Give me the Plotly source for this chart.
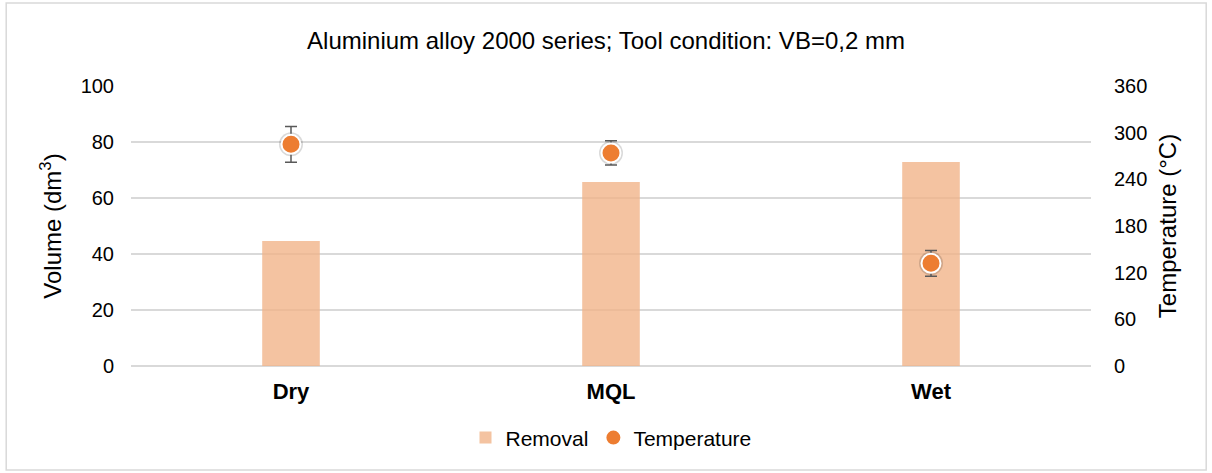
import plotly.graph_objects as go

categories = ['Dry', 'MQL', 'Wet']
removal = [44.6, 65.7, 72.9]
temperature = [285, 274, 132]
temperature_err = [23, 15.5, 16.5]

volume_ticks = [0, 20, 40, 60, 80, 100]
temp_ticks = [0, 60, 120, 180, 240, 300, 360]

font = 'Liberation Sans, Arial, sans-serif'

fig = go.Figure()

fig.add_trace(go.Bar(
    x=categories,
    y=removal,
    name='Removal',
    marker=dict(color='rgba(241,178,134,0.78)', line=dict(width=0)),
    width=0.18,
))

# soft shadow under the markers
fig.add_trace(go.Scatter(
    x=categories,
    y=temperature,
    yaxis='y2',
    mode='markers',
    marker=dict(size=24, color='rgba(0,0,0,0.15)'),
    showlegend=False,
    hoverinfo='skip',
))

fig.add_trace(go.Scatter(
    x=categories,
    y=temperature,
    yaxis='y2',
    mode='markers',
    name='Temperature',
    marker=dict(size=19, color='#ED7D31', line=dict(color='white', width=2)),
    error_y=dict(type='data', array=temperature_err, color='#595959',
                 thickness=1.5, width=6),
))

fig.update_layout(
    width=1212,
    height=473,
    paper_bgcolor='white',
    plot_bgcolor='white',
    font=dict(family=font, size=20, color='#000000'),
    margin=dict(l=131, r=121, t=86, b=107),
    title=dict(
        text='Aluminium alloy 2000 series; Tool condition: VB=0,2 mm',
        x=0.5, xanchor='center', y=0.915, yanchor='middle',
        font=dict(size=24, color='#000000'),
    ),
    xaxis=dict(
        type='category',
        showgrid=False,
        showline=False,
        ticks='',
        ticklabelstandoff=10,
        tickfont=dict(size=22, color='#000000', family=font, weight='bold'),
    ),
    yaxis=dict(
        range=[0, 100],
        tickvals=volume_ticks,
        showgrid=True,
        gridcolor='#D9D9D9',
        gridwidth=1.5,
        zeroline=True,
        zerolinecolor='#D9D9D9',
        zerolinewidth=1.5,
        ticks='',
        ticklabelstandoff=16,
        title=dict(text='Volume (dm<sup>3</sup>)', font=dict(size=24), standoff=12),
    ),
    yaxis2=dict(
        overlaying='y',
        side='right',
        range=[0, 360],
        tickvals=temp_ticks,
        showgrid=False,
        zeroline=False,
        ticks='',
        ticklabelstandoff=22,
        title=dict(text='Temperature (°C)', font=dict(size=24), standoff=12),
    ),
    legend=dict(
        orientation='h',
        x=0.5, xanchor='center',
        y=-0.257, yanchor='middle',
        font=dict(size=21),
        itemwidth=30,
    ),
    bargap=0.82,
    shapes=[dict(
        type='rect', xref='paper', yref='paper',
        x0=-0.130, x1=1.120, y0=-0.371, y1=1.296,
        line=dict(color='#D9D9D9', width=1.5),
        fillcolor='rgba(0,0,0,0)',
    )],
)

fig.write_html('out.html', config={'displayModeBar': False},
               post_script="document.body.style.margin='0';")
